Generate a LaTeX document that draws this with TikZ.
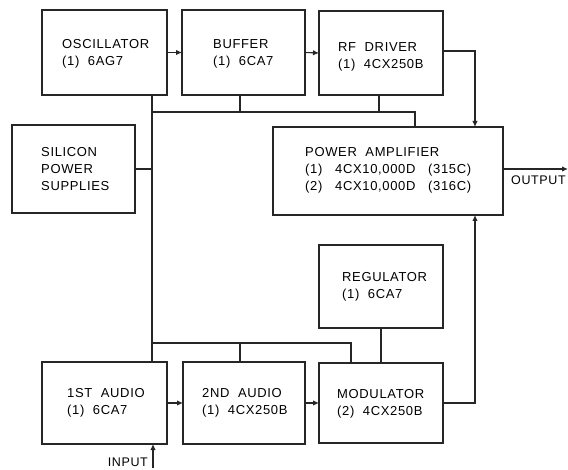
\documentclass[tikz,border=0pt]{standalone}
\usepackage{fontspec}
\setmainfont[LetterSpace=5]{Liberation Sans}
\usetikzlibrary{arrows.meta}
\begin{document}
\begin{tikzpicture}[x=1pt,y=-1pt,
  blk/.style={draw=black!85, line width=2.2pt, rectangle, outer sep=0pt, inner sep=0pt},
  txt/.style={anchor=west, align=left, inner sep=0pt, font=\fontsize{13}{17}\selectfont},
  wire/.style={draw=black!85, line width=1.1pt},
  arr/.style={wire, -{Latex[length=6pt,width=5.5pt]}},
  lbl/.style={font=\fontsize{12.5}{14}\selectfont, inner sep=0pt}]
\useasboundingbox (0,0) rectangle (568,470);
% blocks
\node[blk, minimum width=125pt, minimum height=85pt] (osc) at (104.5,52.5) {};
\node[blk, minimum width=123pt, minimum height=85pt] (buf) at (243.5,52.5) {};
\node[blk, minimum width=124pt, minimum height=84pt] (rfd) at (381,53) {};
\node[blk, minimum width=123pt, minimum height=88pt] (ps) at (73.5,169) {};
\node[blk, minimum width=230pt, minimum height=88pt] (pa) at (388,171) {};
\node[blk, minimum width=124pt, minimum height=83pt] (reg) at (381,286.5) {};
\node[blk, minimum width=124pt, minimum height=80pt] (mod) at (381,403) {};
\node[blk, minimum width=125pt, minimum height=82pt] (aud1) at (104.5,403) {};
\node[blk, minimum width=122pt, minimum height=82pt] (aud2) at (244,403) {};
% texts
\node[txt] (osct) at ([xshift=20pt,yshift=-1pt]osc.west) {OSCILLATOR\\(1)\ \ 6AG7};
\node[txt] (buft) at ([xshift=31pt,yshift=-1pt]buf.west) {BUFFER\\(1)\ \ 6CA7};
\node[txt] (rfdt) at ([xshift=19pt,yshift=-4pt]rfd.west) {RF\ \ DRIVER\\(1)\ \ 4CX250B};
\node[txt] (pst) at ([xshift=29pt,yshift=0pt]ps.west) {SILICON\\POWER\\SUPPLIES};
\node[txt] (pat) at ([xshift=32pt,yshift=1pt]pa.west) {POWER\ \ AMPLIFIER\\(1)\ \ \ 4CX10,000D\ \ \ (315C)\\(2)\ \ \ 4CX10,000D\ \ \ (316C)};
\node[txt] (regt) at ([xshift=23pt,yshift=0pt]reg.west) {REGULATOR\\(1)\ \ 6CA7};
\node[txt] (modt) at ([xshift=18pt,yshift=-1pt]mod.west) {MODULATOR\\(2)\ \ 4CX250B};
\node[txt] (aud1t) at ([xshift=25pt,yshift=0pt]aud1.west) {1ST\ \ AUDIO\\(1)\ \ 6CA7};
\node[txt] (aud2t) at ([xshift=19pt,yshift=0pt]aud2.west) {2ND\ \ AUDIO\\(1)\ \ 4CX250B};
% coordinates
\coordinate (bus) at (152,112);
\coordinate (busB) at (152,343);
\coordinate (topR) at (415,112);
\coordinate (botR) at (351,343);
\coordinate (rfx) at (475,51);
\coordinate (modx) at (475,403);
\coordinate (out) at (568,169);
\coordinate (in) at (153,468);
% main chain
\draw[arr] (osc.east) -- (buf.west);
\draw[arr] (buf.east) -- (rfd.west);
\draw[arr] (rfd.east |- rfx) -- (rfx) -- (pa.north -| rfx);
\draw[arr] (aud1.east) -- (aud2.west);
\draw[arr] (aud2.east) -- (mod.west);
\draw[arr] (mod.east) -- (modx) -- (pa.south -| modx);
\draw[arr] (pa.east |- out) -- (out);
\draw[arr] (in) -- (aud1.south -| in);
% supply bus
\draw[wire] (osc.south -| bus) -- (aud1.north -| bus);
\draw[wire] (bus) -- (topR) -- (pa.north -| topR);
\draw[wire] (buf.south -| 240,0) -- (bus -| 240,0);
\draw[wire] (rfd.south -| 379,0) -- (bus -| 379,0);
\draw[wire] (ps.east) -- (ps.east -| bus);
\draw[wire] (busB) -- (botR) -- (mod.north -| botR);
\draw[wire] (aud2.north -| 240,0) -- (busB -| 240,0);
\draw[wire] (reg.south) -- (mod.north);
% labels
\node[lbl, anchor=north west] (outl) at (511,176) {OUTPUT};
\node[lbl, anchor=east] (inl) at (148,462) {INPUT};
\end{tikzpicture}
\end{document}
